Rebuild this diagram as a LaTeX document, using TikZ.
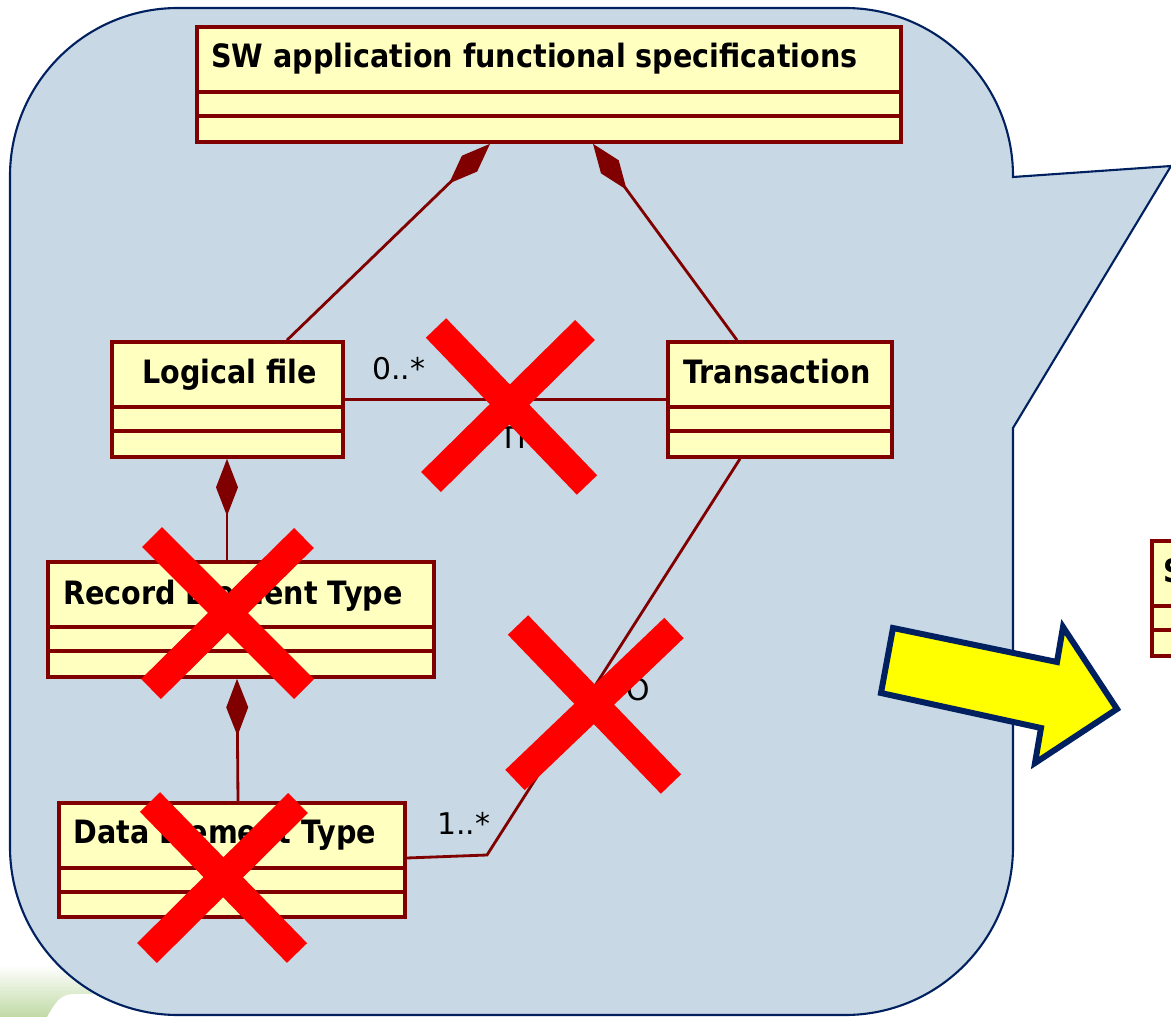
\documentclass[tikz,border=0pt]{standalone}
\usepackage{fontspec}
\usetikzlibrary{arrows.meta,fit}
\newfontfamily\tahfam[FakeStretch=0.89]{DejaVu Sans}
\newfontfamily\dvfam{DejaVu Sans}
\definecolor{umlred}{RGB}{128,0,0}
\definecolor{umlfill}{RGB}{255,255,192}
\definecolor{callfill}{RGB}{200,216,228}
\definecolor{navy}{RGB}{0,32,96}
\definecolor{xred}{RGB}{255,0,0}
\definecolor{leaf}{RGB}{192,218,165}
\definecolor{arrowyellow}{RGB}{255,255,0}
\begin{document}
\begin{tikzpicture}[x=0.02cm,y=-0.02cm,
  cls/.style={draw=umlred, fill=umlfill, line width=2.1pt, inner sep=0pt},
  clsline/.style={draw=umlred, line width=2.1pt},
  assoc/.style={draw=umlred, line width=1.6pt},
  comp/.style={assoc, -{Diamond[length=1.14cm,width=0.44cm,fill=umlred,color=umlred]}},
  cross/.style={draw=xred, line width=16pt, line cap=butt},
  ttl/.style={font=\tahfam\bfseries\fontsize{18.3}{21}\selectfont, inner sep=0pt, anchor=base west},
  lbl/.style={font=\dvfam\fontsize{17}{20}\selectfont, inner sep=0pt, anchor=base west},
  callout/.style={fill=callfill, draw=navy, line width=1.2pt, line join=miter},
  bigarrow/.style={fill=arrowyellow, draw=navy, line width=3.4pt, line join=miter}
]
\useasboundingbox (0,0) rectangle (1171,1017);
\clip (0,0) rectangle (1171,1017);

% background decoration (bottom left)
\shade[top color=white, bottom color=leaf] (0,965) rectangle (200,1017);
\fill[white] (47,1017) .. controls (55,1003) and (60,995) .. (72,994) -- (200,994) -- (200,1017) -- cycle;

% callout
\path[callout] (10,176) .. controls (10,83.2) and (85.2,8) .. (178,8)
  -- (845,8) .. controls (937.8,8) and (1013,83.2) .. (1013,176)
  -- (1013,177) -- (1171,166) -- (1013,428)
  -- (1013,847) .. controls (1013,939.8) and (937.8,1015) .. (845,1015)
  -- (178,1015) .. controls (85.2,1015) and (10,939.8) .. (10,847) -- cycle;

% class boxes
\node[cls, fit={(197,27)(901,142)}] (sw) {};
\draw[clsline] (sw.west |- 0,92) -- (sw.east |- 0,92);
\draw[clsline] (sw.west |- 0,116) -- (sw.east |- 0,116);
\node[ttl] (swt) at (211,68) {SW application functional specifications};

\node[cls, fit={(112,342)(343,457)}] (lf) {};
\draw[clsline] (lf.west |- 0,407) -- (lf.east |- 0,407);
\draw[clsline] (lf.west |- 0,431) -- (lf.east |- 0,431);
\node[ttl] (lft) at (142,383) {Logical file};

\node[cls, fit={(668,342)(892,457)}] (tr) {};
\draw[clsline] (tr.west |- 0,407) -- (tr.east |- 0,407);
\draw[clsline] (tr.west |- 0,431) -- (tr.east |- 0,431);
\node[ttl] (trt) at (683,383) {Transaction};

\node[cls, fit={(48,562)(434,677)}] (ret) {};
\draw[clsline] (ret.west |- 0,627) -- (ret.east |- 0,627);
\draw[clsline] (ret.west |- 0,651) -- (ret.east |- 0,651);
\node[ttl] (rett) at (63,604) {Record Element Type};

\node[cls, fit={(59,803)(405,917)}] (det) {};
\draw[clsline] (det.west |- 0,868) -- (det.east |- 0,868);
\draw[clsline] (det.west |- 0,892) -- (det.east |- 0,892);
\node[ttl] (dett) at (73,843) {Data Element Type};

\node[cls, fit={(1152,541)(1200,656)}] (sw2) {};
\draw[clsline] (sw2.west |- 0,606) -- (sw2.east |- 0,606);
\draw[clsline] (sw2.west |- 0,630) -- (sw2.east |- 0,630);
\node[ttl] (sw2t) at (1163,582) {S};

% connectors
\draw[comp] (lf.north -| 287,0) -- (sw.south -| 490,0);
\draw[comp] (tr.north -| 737,0) -- (sw.south -| 593,0);
\draw[comp] (ret.north -| 227,0) -- (lf.south -| 227,0);
\draw[comp] (det.north -| 238,0) -- (ret.south -| 237,0);
\draw[assoc] (lf.east) -- (tr.west);
\coordinate (bend) at (487,855);
\draw[assoc] (tr.south -| 740,0) -- (bend) -- (det.east |- 0,858);

% labels
\node[lbl] (m1) at (372,379) {0..*};
\node[lbl] (n1) at (499,448) {TR};
\node[lbl] (m2) at (437,834) {1..*};
\node[lbl] (n2) at (626,700) {O};

% red crosses
\draw[cross] (436,328) -- (587,485);
\draw[cross] (585,330) -- (431,482);
\draw[cross] (152,537) -- (304,689);
\draw[cross] (304,538) -- (151,689);
\draw[cross] (150,802) -- (297,953);
\draw[cross] (298,803) -- (147,953);
\draw[cross] (518,625) -- (671,784);
\draw[cross] (674,628) -- (515,780);

% yellow arrow
\path[bigarrow] (893,628) -- (1057,662) -- (1063,627) -- (1117,709)
  -- (1035,763) -- (1041,728) -- (881,693) -- cycle;
\end{tikzpicture}
\end{document}
